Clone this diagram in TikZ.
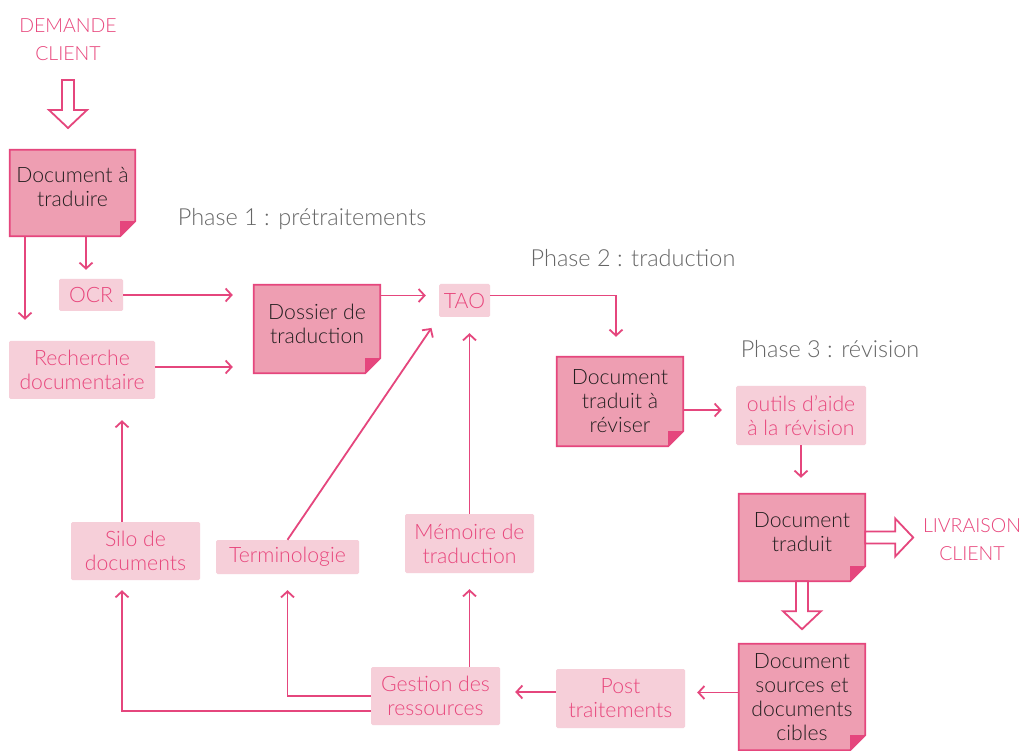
\documentclass[tikz,border=0pt]{standalone}
\usepackage{fontspec}
\setmainfont{Lato Light}
\usetikzlibrary{arrows.meta,backgrounds}

\definecolor{pinkline}{HTML}{E5467D}
\definecolor{pinktext}{HTML}{E8467C}
\definecolor{docfill}{HTML}{EE9EB2}
\definecolor{toolfill}{HTML}{F6CFD9}
\definecolor{phasegray}{HTML}{666666}
\definecolor{doctext}{HTML}{231F20}

\tikzset{
  doc/.style={minimum width=126pt,minimum height=88pt,align=center,text=doctext,inner sep=0pt},
  tool/.style={fill=toolfill,rounded corners=1.5pt,align=center,text=pinktext,inner sep=0pt},
  client/.style={align=center,text=pinktext,font=\fontsize{19.5}{28}\selectfont},
  phase/.style={text=phasegray,font=\fontsize{23.5}{28}\selectfont},
  link/.style={draw=pinkline,line width=1.8pt,-{Straight Barb[length=6pt,width=13pt]}},
  hollow/.pic={
    \draw[pinkline,line width=1.8pt,fill=white,line join=miter]
      (0,-6) -- (30,-6) -- (30,-19) -- (48,0) -- (30,19) -- (30,6) -- (0,6) -- cycle;
  }
}

\begin{document}
\begin{tikzpicture}[x=1pt,y=-1pt,font=\fontsize{21.2}{24}\selectfont]
  \useasboundingbox (0,0) rectangle (1026,751);

  \node[client] (demande) at (68,40) {DEMANDE\\CLIENT};
  \node[client] (livr) at (972,540) {LIVRAISON\\CLIENT};

  \node[phase] (phase1) at (302,219) {Phase 1 : prétraitements};
  \node[phase] (phase2) at (633,258) {Phase 2 : traduction};
  \node[phase] (phase3) at (830,349) {Phase 3 : révision};

  \node[doc,minimum width=125pt,minimum height=86pt] (src) at (72.5,193)
    {Document à\\traduire\\[-12pt]\mbox{}};
  \node[doc] (dossier) at (317,329) {Dossier de\\traduction\\[-14pt]\mbox{}};
  \node[doc,minimum height=89pt] (arev) at (620,401.5) {Document\\traduit à\\réviser};
  \node[doc,minimum height=87pt] (trad) at (802,537.5) {Document\\traduit\\[-13pt]\mbox{}};
  \node[doc,minimum height=106pt] (cibles) at (802,697) {Document\\sources et\\documents\\cibles};

  \node[tool,minimum width=64pt,minimum height=32pt] (ocr) at (91,295) {OCR};
  \node[tool,minimum width=146pt,minimum height=58pt] (rech) at (82,370) {Recherche\\documentaire};
  \node[tool,minimum width=51pt,minimum height=33pt] (tao) at (464.5,300.5) {TAO};
  \node[tool,minimum width=130pt,minimum height=59pt] (outils) at (801,415.5) {outils d’aide\\à la révision};
  \node[tool,minimum width=129pt,minimum height=59pt] (post) at (620.5,698.5) {Post\\traitements};
  \node[tool,minimum width=129pt,minimum height=58pt] (gest) at (435.5,696) {Gestion des\\ressources};
  \node[tool,minimum width=129pt,minimum height=58pt] (silo) at (135.5,551) {Silo de\\documents};
  \node[tool,minimum width=143pt,minimum height=34pt] (term) at (287.5,557) {Terminologie};
  \node[tool,minimum width=129pt,minimum height=59pt] (mem) at (469.5,543.5) {Mémoire de\\traduction};

  \begin{scope}[on background layer]
    \fill[white] (0,0) rectangle (1026,751);
    \foreach \n in {src,dossier,arev,trad,cibles}{
      \filldraw[draw=pinkline,line width=1.8pt,fill=docfill]
        (\n.north west) -- (\n.north east) -- ([yshift=15pt]\n.south east)
        -- ([xshift=-15pt]\n.south east) -- (\n.south west) -- cycle;
      \fill[pinkline] ([xshift=-15pt]\n.south east) -- ([xshift=-15pt,yshift=15pt]\n.south east)
        -- ([yshift=15pt]\n.south east) -- cycle;
    }
  \end{scope}

  \pic at (68,80) [rotate=-90] {hollow};
  \pic at (trad.east) {hollow};
  \pic at (trad.south) [rotate=-90] {hollow};

  \coordinate (rechout) at ([yshift=3pt]rech.east);
  \coordinate (taoin) at ([yshift=5pt]tao.west);
  \coordinate (taoout) at ([yshift=5pt]tao.east);
  \coordinate (arevout) at ([yshift=-8.5pt]arev.east);
  \coordinate (ciblesout) at ([yshift=4.5pt]cibles.west);
  \coordinate (postout) at ([yshift=6.5pt]post.west);
  \coordinate (silotop) at ([xshift=-13.5pt]silo.north);
  \coordinate (silobot) at ([xshift=-13.5pt]silo.south);

  \draw[link,shorten >=21pt] ([xshift=-47.5pt]src.south) -- ([xshift=-57pt]rech.north);
  \draw[link,shorten >=9pt] ([xshift=13.5pt]src.south) -- ([xshift=-5pt]ocr.north);
  \draw[link,shorten >=21pt] (ocr.east) -- (dossier.west |- ocr.east);
  \draw[link,shorten >=21pt] (rechout) -- (dossier.west |- rechout);
  \draw[link,shorten >=13pt] (dossier.east |- taoin) -- (taoin);
  \draw[link,shorten >=20pt] (taoout) -| ([xshift=-4pt]arev.north);
  \draw[link,shorten >=14pt] (arevout) -- (outils.west |- arevout);
  \draw[link,shorten >=16pt] (outils.south) -- (outils.south |- trad.north);
  \draw[link,shorten >=12pt] (ciblesout) -- (post.east |- ciblesout);
  \draw[link,shorten >=15pt] (postout) -- (gest.east |- postout);
  \draw[link,shorten >=16pt] (mem.south |- gest.north) -- (mem.south);
  \draw[link,shorten >=16pt] (gest.west) -| (term.south);
  \draw[link,shorten >=10pt] ([yshift=-15pt]gest.west) -| (silobot);
  \draw[link,shorten >=21pt] (silotop) -- (rech.south -| silotop);
  \draw[link,shorten >=13pt] (term.north) -- (tao.south west);
  \draw[link,shorten >=16pt] (mem.north) -- (mem.north |- tao.south);
\end{tikzpicture}
\end{document}
